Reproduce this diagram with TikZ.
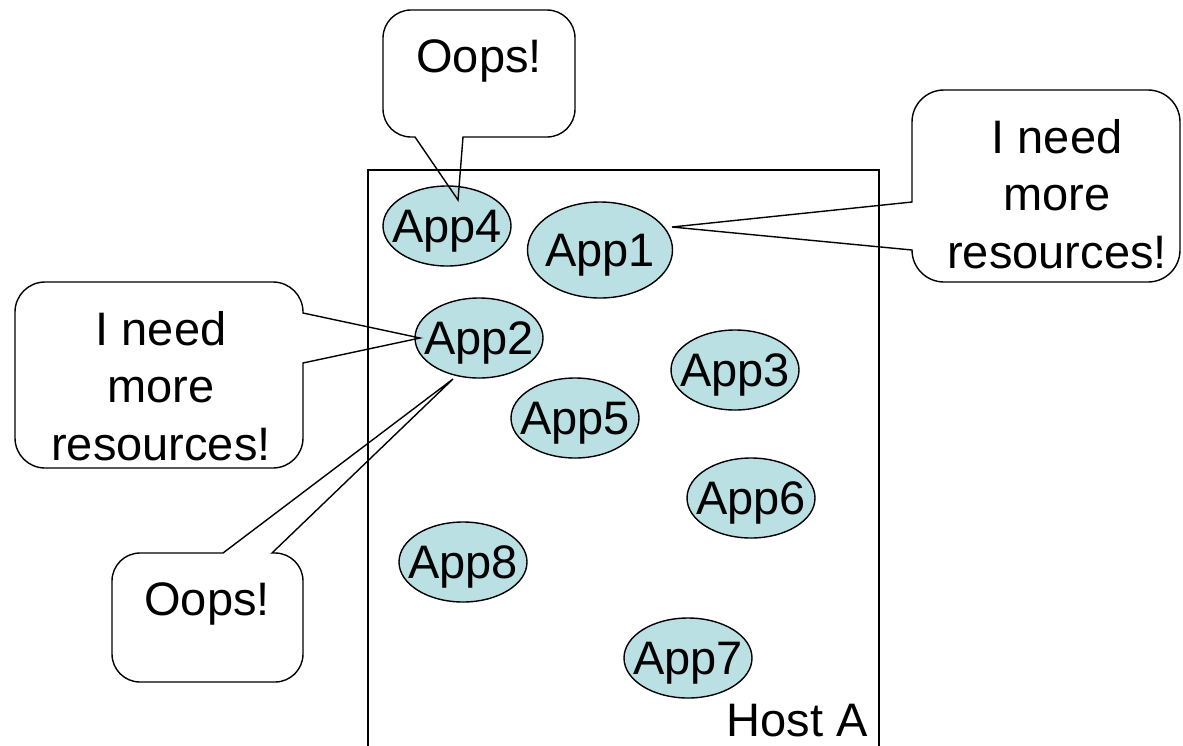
\documentclass[tikz,border=0pt]{standalone}
\usepackage{fontspec}
\setmainfont{Liberation Sans}
\usetikzlibrary{shapes.geometric}
\definecolor{appfill}{RGB}{187,224,227}
% application names take no width, so the ellipse keeps its own size
\newcommand{\appname}[1]{\makebox[0pt]{#1}}
\begin{document}
\begin{tikzpicture}[x=1pt, y=-1pt,
  app/.style={ellipse, draw, fill=appfill, line width=1.4pt,
    minimum width=128pt, minimum height=80pt, inner sep=0pt,
    text depth=0pt, font=\fontsize{47}{56}\selectfont},
  callout/.style={draw, line width=1.4pt},
  hostbox/.style={draw, line width=1.4pt},
  saying/.style={font=\fontsize{47}{57.5}\selectfont, align=center, inner sep=0pt}]
\useasboundingbox (0,0) rectangle (1183,745);

% the host
\draw[hostbox] (368,746) -- (368,170) -- (879,170) -- (879,746);
\node[saying, anchor=base] (hostA) at (797,736) {Host A};

% applications running on the host
\node[app] (app4) at (447,226) {\appname{App4}};
\node[app, minimum width=145pt, minimum height=96pt] (app1) at (600,250) {\appname{App1}};
\node[app] (app2) at (479,338) {\appname{App2}};
\node[app] (app3) at (735,370) {\appname{App3}};
\node[app] (app5) at (575,418) {\appname{App5}};
\node[app] (app6) at (751,498) {\appname{App6}};
\node[app] (app8) at (463,562) {\appname{App8}};
\node[app] (app7) at (688,658) {\appname{App7}};

% tips of the speech bubbles
\coordinate (tipA) at (458,200);
\coordinate (tipB) at (672,227);
\coordinate (tipC) at (420,338);
\coordinate (tipD) at (453,379);

% speech bubbles
\draw[callout, rounded corners=28pt] (479,10) -- (383,10) -- (383,137)
  [sharp corners] -- (415,137) -- (tipA) -- (463,137)
  [rounded corners=28pt] -- (575,137) -- (575,10) -- cycle;
\node[saying, anchor=base] (oops1) at (479,72) {Oops!};

\draw[callout, rounded corners=32pt] (1045,90) -- (912,90)
  [sharp corners] -- (912,202) -- (tipB) -- (912,250)
  [rounded corners=32pt] -- (912,282) -- (1180,282) -- (1180,90) -- cycle;
\node[saying] (need1) at (1057,194) {I need\\more\\resources!};

\draw[callout, rounded corners=30pt] (159,282) -- (303,282)
  [sharp corners] -- (303,313) -- (tipC) -- (303,363)
  [rounded corners=30pt] -- (303,468) -- (15,468) -- (15,282) -- cycle;
\node[saying] (need2) at (161,386) {I need\\more\\resources!};

\draw[callout, rounded corners=28pt] (112,620) -- (112,553)
  [sharp corners] -- (223,553) -- (tipD) -- (272,553)
  [rounded corners=28pt] -- (303,553) -- (303,682) -- (112,682) -- cycle;
\node[saying, anchor=base] (oops2) at (207,615) {Oops!};
\end{tikzpicture}
\end{document}
